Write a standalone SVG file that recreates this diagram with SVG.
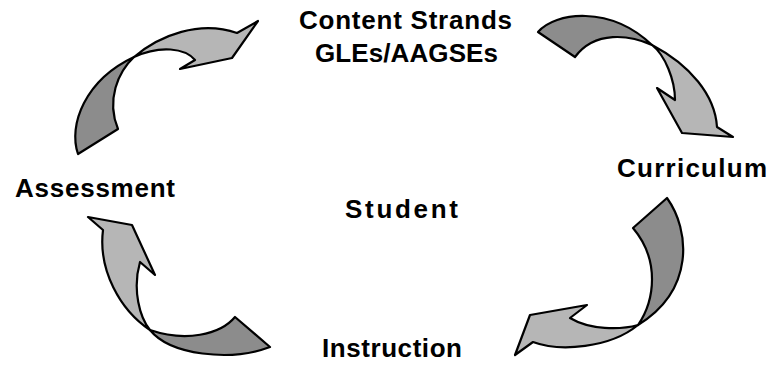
<svg xmlns="http://www.w3.org/2000/svg" width="771" height="366" viewBox="0 0 771 366">
<style>
.dk{fill:#8c8c8c;stroke:#000;stroke-width:2.2;stroke-linejoin:round}
.lt{fill:#b6b6b6;stroke:#000;stroke-width:2.2;stroke-linejoin:round}
.lbl{font-family:"Liberation Sans",Arial,sans-serif;font-weight:bold;font-size:26px;fill:#000}
</style>
<rect width="771" height="366" fill="#fff"/>
<g id="connectors">
<g id="arrow-top-left">
<path class="dk" d="M78,154 C68,125 85,80 134,57 C118,72 106,100 118,129 Z"/>
<path class="lt" d="M134,57 C160,35 200,20 237,33 L258,21 L232,58 L180,69 L195,60 C185,48 160,45 134,57 Z"/>
</g>
<g id="arrow-top-right">
<path class="dk" d="M538,32 C555,12 610,5 652,45 C630,35 595,30 575,57 Z"/>
<path class="lt" d="M652,45 C690,65 715,95 717,127 L733,137 L682,133 L657,88 L675,100 C675,80 665,55 652,45 Z"/>
</g>
<g id="arrow-bottom-right">
<path class="dk" d="M667,198 C690,230 695,290 638,325 C655,300 660,260 633,228 Z"/>
<path class="lt" d="M638,325 C610,348 560,352 533,342 L515,355 L530,315 L587,305 L570,318 C590,330 620,330 638,325 Z"/>
</g>
<g id="arrow-bottom-left">
<path class="lt" d="M88,217 L132,225 L155,275 L140,262 C132,290 140,318 150,330 C120,310 98,270 103,230 Z"/>
<path class="dk" d="M150,330 C170,355 230,362 270,347 L235,317 C220,335 185,342 150,330 Z"/>
</g>
</g>
<g id="node-content">
<text class="lbl" x="299" y="29" textLength="213" lengthAdjust="spacing">Content Strands</text>
<text class="lbl" x="315" y="62" textLength="183" lengthAdjust="spacing">GLEs/AAGSEs</text>
</g>
<g id="node-curriculum"><text class="lbl" x="617" y="177" textLength="150" lengthAdjust="spacing">Curriculum</text></g>
<g id="node-assessment"><text class="lbl" x="15" y="197" textLength="160" lengthAdjust="spacing">Assessment</text></g>
<g id="node-student"><text class="lbl" x="345" y="218" textLength="113" lengthAdjust="spacing">Student</text></g>
<g id="node-instruction"><text class="lbl" x="322" y="357" textLength="140" lengthAdjust="spacing">Instruction</text></g>
</svg>
